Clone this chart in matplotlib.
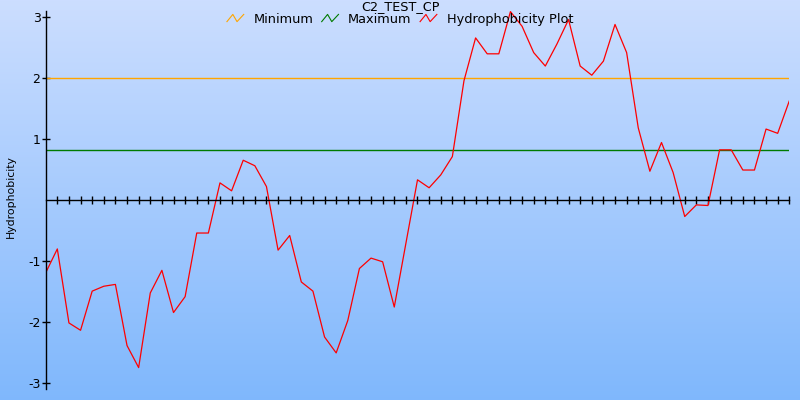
import numpy as np
import matplotlib
matplotlib.use("Agg")
import matplotlib.pyplot as plt
from matplotlib.lines import Line2D
from matplotlib.legend_handler import HandlerBase

title = "C2_TEST_CP"
ylabel = "Hydrophobicity"
min_level = 2.0
max_level = 0.82
hydro = [-1.19, -0.80, -2.01, -2.13, -1.49, -1.41, -1.38, -2.38, -2.74, -1.52,
         -1.15, -1.84, -1.58, -0.54, -0.54, 0.28, 0.15, 0.65, 0.56, 0.22,
         -0.82, -0.58, -1.34, -1.49, -2.24, -2.50, -1.97, -1.12, -0.95, -1.01,
         -1.75, -0.71, 0.33, 0.20, 0.41, 0.71, 1.95, 2.65, 2.39, 2.39,
         3.08, 2.84, 2.41, 2.19, 2.55, 2.95, 2.19, 2.04, 2.27, 2.87,
         2.41, 1.18, 0.47, 0.94, 0.45, -0.27, -0.08, -0.09, 0.82, 0.82,
         0.49, 0.49, 1.16, 1.09, 1.62]
yticks = [-3, -2, -1, 1, 2, 3]


class ZigZag(HandlerBase):
    # little "/\/" icon like the original legend
    def create_artists(self, legend, orig, xd, yd, w, h, fontsize, trans):
        xs = np.array([0, 0.35, 0.6, 1.0]) * w - xd
        ys = np.array([0.15, 0.95, 0.15, 0.95]) * h - yd
        ln = Line2D(xs, ys, color=orig.get_color(), lw=0.8, transform=trans)
        return [ln]


fig = plt.figure(figsize=(8, 4), dpi=100)

# background gradient
bg = fig.add_axes([0, 0, 1, 1], zorder=-10)
top = np.array([0.80, 0.87, 1.0])
bot = np.array([0.50, 0.72, 0.99])
t = np.linspace(0, 1, 256)[:, None]
grad = (top * (1 - t) + bot * t)[:, None, :]
bg.imshow(grad, aspect="auto", extent=[0, 1, 0, 1])
bg.axis("off")

ax = fig.add_axes([45.7 / 800, 11 / 400, (789.3 - 45.7) / 800, 378 / 400])
ax.set_facecolor("none")
x = np.arange(len(hydro))
l1, = ax.plot([0, len(hydro) - 1], [min_level, min_level], color="#ffa500", lw=1.0)
l2, = ax.plot([0, len(hydro) - 1], [max_level, max_level], color="#007a00", lw=1.0)
l3, = ax.plot(x, hydro, color="red", lw=0.9)

ax.set_xlim(0, len(hydro) - 1)
ax.set_ylim(-3.09, 3.09)
for s in ["top", "right"]:
    ax.spines[s].set_visible(False)
ax.spines["bottom"].set_position(("data", 0))
ax.spines["bottom"].set_linewidth(1.0)
ax.spines["left"].set_linewidth(1.0)
ax.set_xticks(x[1:])
ax.set_xticklabels([])
ax.tick_params(axis="x", direction="inout", length=5.5, width=1.0)
ax.set_yticks(yticks)
ax.set_yticklabels([str(v) for v in yticks], fontsize=9)
ax.tick_params(axis="y", direction="inout", length=5.5, width=1.0, pad=1)
ax.set_ylabel(ylabel, fontsize=7.8)
ax.yaxis.set_label_coords(-0.040, 0.51)

fig.text(0.5, 1.0, title, ha="center", va="top", fontsize=9.2)
fig.legend([l1, l2, l3], ["Minimum", "Maximum", "Hydrophobicity Plot"],
           handler_map={Line2D: ZigZag()}, loc="center", ncol=3,
           bbox_to_anchor=(0.5, 1 - 19.5 / 400), frameon=False, fontsize=9.3,
           handlelength=1.3, handletextpad=0.75, columnspacing=0.65,
           borderpad=0, borderaxespad=0)

fig.savefig("out.png", dpi=100)
